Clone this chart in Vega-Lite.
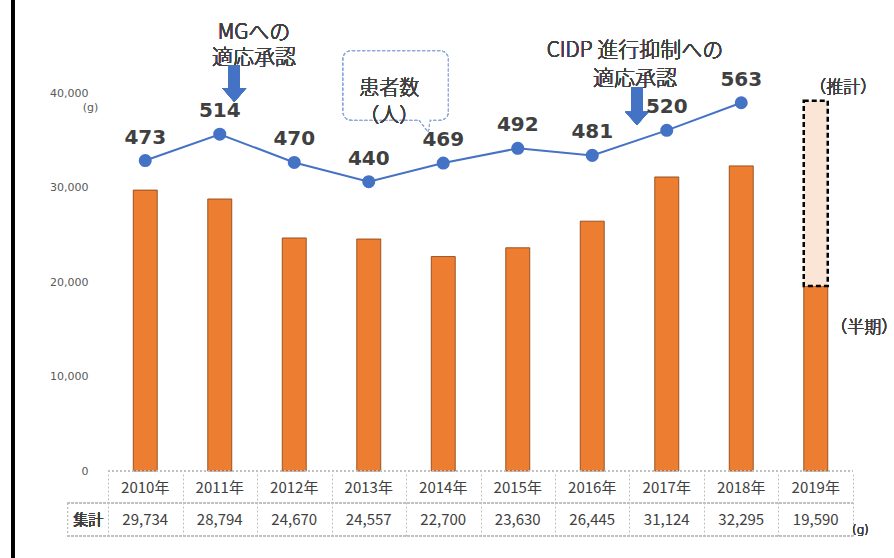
{
  "$schema": "https://vega.github.io/schema/vega-lite/v6.json",
  "width": 755,
  "height": 558,
  "autosize": {"type": "none"},
  "padding": {"left": 103, "top": 0, "right": 36, "bottom": 0},
  "background": "white",
  "config": {
    "view": {"stroke": null},
    "text": {"font": "Noto Sans CJK JP", "color": "#404040", "fontWeight": 300}
  },
  "data": {
    "values": [
      {"year": 2010, "label": "2010年", "total": 29734, "patients": 473},
      {"year": 2011, "label": "2011年", "total": 28794, "patients": 514},
      {"year": 2012, "label": "2012年", "total": 24670, "patients": 470},
      {"year": 2013, "label": "2013年", "total": 24557, "patients": 440},
      {"year": 2014, "label": "2014年", "total": 22700, "patients": 469},
      {"year": 2015, "label": "2015年", "total": 23630, "patients": 492},
      {"year": 2016, "label": "2016年", "total": 26445, "patients": 481},
      {"year": 2017, "label": "2017年", "total": 31124, "patients": 520},
      {"year": 2018, "label": "2018年", "total": 32295, "patients": 563},
      {"year": 2019, "label": "2019年", "total": 19590, "patients": null, "estimate": 39180}
    ]
  },
  "layer": [
    {
      "layer": [
        {
          "mark": {"type": "bar", "width": 24, "color": "#ED7D31", "stroke": "#843C0C", "strokeWidth": 0.8},
          "encoding": {
            "x": {
              "field": "year", "type": "quantitative",
              "scale": {"domain": [2009.5, 2019.5], "nice": false, "zero": false},
              "axis": {
                "title": null, "values": [2009.5, 2010.5, 2011.5, 2012.5, 2013.5, 2014.5, 2015.5, 2016.5, 2017.5, 2018.5, 2019.5],
                "labels": false, "domain": false, "grid": false, "ticks": true,
                "tickSize": -64, "tickColor": "#BFBFBF", "tickDash": [2, 2], "tickWidth": 1, "offset": -22
              }
            },
            "y": {
              "field": "total", "type": "quantitative",
              "scale": {"domain": [-9200, 49850], "nice": false},
              "axis": {
                "values": [0, 10000, 20000, 30000, 40000], "labelExpr": "format(datum.value, ',')",
                "domain": false, "ticks": false, "grid": false, "labelPadding": 15,
                "labelFont": "DejaVu Sans", "labelFontSize": 11, "labelColor": "#595959",
                "title": "(g)", "titleAngle": 0, "titleX": -13, "titleY": 107,
                "titleAlign": "center", "titleBaseline": "middle",
                "titleFont": "DejaVu Sans", "titleFontSize": 11, "titleFontWeight": "normal", "titleColor": "#595959"
              }
            }
          }
        },
        {
          "mark": {"type": "rule", "color": "black", "strokeWidth": 3},
          "encoding": {
            "x": {"datum": 2008.222, "type": "quantitative", "scale": {"domain": [2009.5, 2019.5], "nice": false, "zero": false}},
            "y": {"datum": 49850, "type": "quantitative", "scale": {"domain": [-9200, 49850], "nice": false}},
            "y2": {"datum": -9200}
          }
        },
        {
          "mark": {"type": "rule", "color": "#BFBFBF", "strokeWidth": 1, "strokeDash": [2, 2]},
          "encoding": {
            "x": {"datum": 2009.5, "type": "quantitative", "scale": {"domain": [2009.5, 2019.5], "nice": false, "zero": false}},
            "x2": {"datum": 2019.5},
            "y": {"datum": 0, "type": "quantitative", "scale": {"domain": [-9200, 49850], "nice": false}}
          }
        },
        {
          "mark": {"type": "rule", "color": "#BFBFBF", "strokeWidth": 1, "strokeDash": [2, 2]},
          "encoding": {
            "x": {"datum": 2008.957, "type": "quantitative", "scale": {"domain": [2009.5, 2019.5], "nice": false, "zero": false}},
            "x2": {"datum": 2019.5},
            "y": {"datum": -3380, "type": "quantitative", "scale": {"domain": [-9200, 49850], "nice": false}}
          }
        },
        {
          "mark": {"type": "rule", "color": "#BFBFBF", "strokeWidth": 1, "strokeDash": [2, 2]},
          "encoding": {
            "x": {"datum": 2008.957, "type": "quantitative", "scale": {"domain": [2009.5, 2019.5], "nice": false, "zero": false}},
            "x2": {"datum": 2019.5},
            "y": {"datum": -6872, "type": "quantitative", "scale": {"domain": [-9200, 49850], "nice": false}}
          }
        },
        {
          "mark": {"type": "rule", "color": "#BFBFBF", "strokeWidth": 1, "strokeDash": [2, 2]},
          "encoding": {
            "x": {"datum": 2008.957, "type": "quantitative", "scale": {"domain": [2009.5, 2019.5], "nice": false, "zero": false}},
            "y": {"datum": -3380, "type": "quantitative", "scale": {"domain": [-9200, 49850], "nice": false}},
            "y2": {"datum": -6872}
          }
        },
        {
          "transform": [{"filter": "datum.estimate != null"}],
          "mark": {"type": "bar", "width": 24, "fill": "#FBE5D6", "stroke": "black", "strokeWidth": 2.5, "strokeDash": [5, 3]},
          "encoding": {
            "x": {"field": "year", "type": "quantitative", "scale": {"domain": [2009.5, 2019.5], "nice": false, "zero": false}},
            "y": {"field": "total", "type": "quantitative", "scale": {"domain": [-9200, 49850], "nice": false}},
            "y2": {"field": "estimate"}
          }
        },
        {
          "mark": {"type": "text", "fontSize": 15, "fontWeight": 400, "baseline": "middle"},
          "encoding": {
            "x": {"field": "year", "type": "quantitative", "scale": {"domain": [2009.5, 2019.5], "nice": false, "zero": false}},
            "y": {"datum": -1793, "type": "quantitative", "scale": {"domain": [-9200, 49850], "nice": false}},
            "text": {"field": "label"}
          }
        },
        {
          "mark": {"type": "text", "fontSize": 15, "fontWeight": 400, "baseline": "middle"},
          "encoding": {
            "x": {"field": "year", "type": "quantitative", "scale": {"domain": [2009.5, 2019.5], "nice": false, "zero": false}},
            "y": {"datum": -5179, "type": "quantitative", "scale": {"domain": [-9200, 49850], "nice": false}},
            "text": {"field": "total", "format": ","}
          }
        },
        {
          "mark": {"type": "text", "fontSize": 15, "fontWeight": 400, "baseline": "middle", "text": "集計"},
          "encoding": {
            "x": {"datum": 2009.235, "type": "quantitative", "scale": {"domain": [2009.5, 2019.5], "nice": false, "zero": false}},
            "y": {"datum": -5179, "type": "quantitative", "scale": {"domain": [-9200, 49850], "nice": false}}
          }
        },
        {
          "mark": {"type": "text", "fontSize": 12, "font": "DejaVu Sans", "align": "left", "baseline": "middle", "text": "(g)"},
          "encoding": {
            "x": {"datum": 2019.487, "type": "quantitative", "scale": {"domain": [2009.5, 2019.5], "nice": false, "zero": false}},
            "y": {"datum": -6237, "type": "quantitative", "scale": {"domain": [-9200, 49850], "nice": false}}
          }
        },
        {
          "mark": {"type": "text", "fontSize": 21, "baseline": "middle", "lineHeight": 25, "text": ["MGへの", "適応承認"]},
          "encoding": {
            "x": {"datum": 2011.46, "type": "quantitative", "scale": {"domain": [2009.5, 2019.5], "nice": false, "zero": false}},
            "y": {"datum": 46305, "type": "quantitative", "scale": {"domain": [-9200, 49850], "nice": false}}
          }
        },
        {
          "mark": {"type": "point", "shape": "M-0.3,-1L0.3,-1L0.3,0.24L0.65,0.24L0,1L-0.65,0.24L-0.3,0.24Z", "size": 1369, "filled": true, "fill": "#4472C4", "strokeWidth": 0, "opacity": 1},
          "encoding": {
            "x": {"datum": 2011.195, "type": "quantitative", "scale": {"domain": [2009.5, 2019.5], "nice": false, "zero": false}},
            "y": {"datum": 41014, "type": "quantitative", "scale": {"domain": [-9200, 49850], "nice": false}}
          }
        },
        {
          "mark": {"type": "text", "fontSize": 21, "baseline": "middle", "lineHeight": 28, "text": ["CIDP 進行抑制への", "適応承認"]},
          "encoding": {
            "x": {"datum": 2016.573, "type": "quantitative", "scale": {"domain": [2009.5, 2019.5], "nice": false, "zero": false}},
            "y": {"datum": 44453, "type": "quantitative", "scale": {"domain": [-9200, 49850], "nice": false}}
          }
        },
        {
          "mark": {"type": "point", "shape": "M-0.3,-1L0.3,-1L0.3,0.3L0.62,0.3L0,1L-0.62,0.3L-0.3,0.3Z", "size": 1444, "filled": true, "fill": "#4472C4", "strokeWidth": 0, "opacity": 1},
          "encoding": {
            "x": {"datum": 2016.6, "type": "quantitative", "scale": {"domain": [2009.5, 2019.5], "nice": false, "zero": false}},
            "y": {"datum": 38633, "type": "quantitative", "scale": {"domain": [-9200, 49850], "nice": false}}
          }
        },
        {
          "mark": {"type": "point", "shape": "M-0.725,-0.667L0.725,-0.667Q0.875,-0.667 0.875,-0.517L0.875,0.333Q0.875,0.483 0.725,0.483L0.575,0.483L0.542,0.683L0.392,0.483L-0.725,0.483Q-0.875,0.483 -0.875,0.333L-0.875,-0.517Q-0.875,-0.667 -0.725,-0.667Z", "size": 14400, "filled": true, "fill": "white", "stroke": "#8FAADC", "strokeWidth": 1.2, "strokeDash": [3, 2], "opacity": 1},
          "encoding": {
            "x": {"datum": 2013.361, "type": "quantitative", "scale": {"domain": [2009.5, 2019.5], "nice": false, "zero": false}},
            "y": {"datum": 40220, "type": "quantitative", "scale": {"domain": [-9200, 49850], "nice": false}}
          }
        },
        {
          "mark": {"type": "text", "fontSize": 20, "baseline": "middle", "lineHeight": 27, "text": ["患者数", "（人）"]},
          "encoding": {
            "x": {"datum": 2013.275, "type": "quantitative", "scale": {"domain": [2009.5, 2019.5], "nice": false, "zero": false}},
            "y": {"datum": 40484, "type": "quantitative", "scale": {"domain": [-9200, 49850], "nice": false}}
          }
        },
        {
          "mark": {"type": "text", "fontSize": 17, "baseline": "middle", "text": "（推計）"},
          "encoding": {
            "x": {"datum": 2019.368, "type": "quantitative", "scale": {"domain": [2009.5, 2019.5], "nice": false, "zero": false}},
            "y": {"datum": 40538, "type": "quantitative", "scale": {"domain": [-9200, 49850], "nice": false}}
          }
        },
        {
          "mark": {"type": "text", "fontSize": 17, "baseline": "middle", "align": "left", "text": "（半期）"},
          "encoding": {
            "x": {"datum": 2019.195, "type": "quantitative", "scale": {"domain": [2009.5, 2019.5], "nice": false, "zero": false}},
            "y": {"datum": 15139, "type": "quantitative", "scale": {"domain": [-9200, 49850], "nice": false}}
          }
        }
      ]
    },
    {
      "transform": [{"filter": "datum.patients != null"}],
      "layer": [
        {
          "mark": {"type": "line", "color": "#4472C4", "strokeWidth": 2},
          "encoding": {
            "x": {"field": "year", "type": "quantitative", "scale": {"domain": [2009.5, 2019.5], "nice": false, "zero": false}},
            "y": {"field": "patients", "type": "quantitative", "scale": {"domain": [-146, 723], "nice": false, "zero": false}, "axis": null}
          }
        },
        {
          "mark": {"type": "point", "shape": "circle", "filled": true, "color": "#4472C4", "size": 170, "opacity": 1},
          "encoding": {
            "x": {"field": "year", "type": "quantitative", "scale": {"domain": [2009.5, 2019.5], "nice": false, "zero": false}},
            "y": {"field": "patients", "type": "quantitative", "scale": {"domain": [-146, 723], "nice": false, "zero": false}, "axis": null}
          }
        },
        {
          "mark": {"type": "text", "font": "DejaVu Sans", "fontWeight": "bold", "fontSize": 20, "color": "#404040", "dy": -23, "baseline": "middle"},
          "encoding": {
            "x": {"field": "year", "type": "quantitative", "scale": {"domain": [2009.5, 2019.5], "nice": false, "zero": false}},
            "y": {"field": "patients", "type": "quantitative", "scale": {"domain": [-146, 723], "nice": false, "zero": false}, "axis": null},
            "text": {"field": "patients"}
          }
        }
      ]
    }
  ],
  "resolve": {"scale": {"y": "independent"}, "axis": {"y": "independent"}}
}
